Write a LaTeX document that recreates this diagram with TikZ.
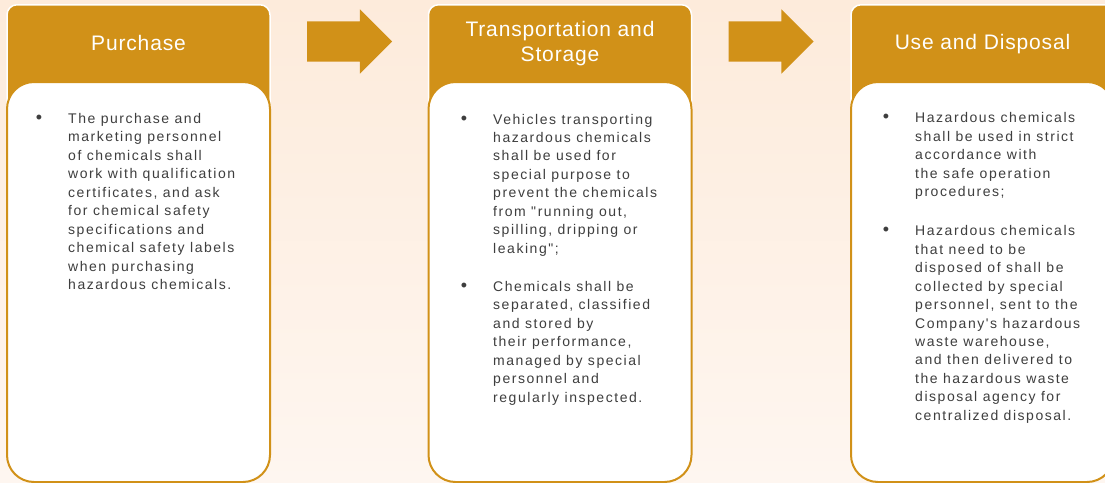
\documentclass[tikz,border=0pt]{standalone}
\usepackage{fontspec}
\setmainfont{Liberation Sans}
\newfontfamily\headfont[LetterSpace=4]{Liberation Sans}
\newfontfamily\itemfont[LetterSpace=11]{Liberation Sans}
\usetikzlibrary{positioning,shapes.arrows}
\definecolor{colorhead}  {RGB}{209,145,24 }
\definecolor{colortext}  {RGB}{62 ,62 ,62 }
\definecolor{colorbgtop} {RGB}{253,235,219}
\definecolor{colorbgbot} {RGB}{254,246,240}
\newcommand{\itembullet}{\llap{{\fontsize{18}{18}\selectfont\textbullet}\hspace{26pt}}}

\begin{document}
\begin{tikzpicture}[
    x=1pt, y=-1pt,
    head/.style={rectangle,fill=colorhead,draw=white,line width=1.5pt,rounded corners=10pt,minimum width=263pt,minimum height=130pt,anchor=north},
    body/.style={rectangle,fill=white,draw=colorhead,line width=2pt,rounded corners=27pt,minimum width=263pt,minimum height=400pt,anchor=north},
    ttl/.style={text=white,font={\headfont\fontsize{21}{25.5}\selectfont},align=center,anchor=base},
    txt/.style={text=colortext,font={\itemfont\fontsize{14}{18.45}\selectfont},align=left,anchor=base west,inner sep=0pt},
    fwd/.style={single arrow,fill=colorhead,inner xsep=0pt,inner ysep=20pt,minimum height=85pt,single arrow head extend=12pt},
]

    \shade[top color=colorbgtop,bottom color=colorbgbot] (0,0) rectangle (1105,482);
    \useasboundingbox (0,0) rectangle (1105,482);

    % three stages
    \node[head] at (138.5,4) (purhead) {};
    \node[body] at (138.5,81) (purbody) {};
    \node[ttl]  at (138.5,50) (purtitle) {Purchase};

    \node[head] at (560,4) (trahead) {};
    \node[body] at (560,81) (trabody) {};
    \node[ttl]  at (560,61.7) (tratitle) {Transportation and\\Storage};

    \node[head] at (982.5,4) (usehead) {};
    \node[body] at (982.5,81) (usebody) {};
    \node[ttl]  at (982.5,49.5) (usetitle) {Use and Disposal};

    % arrows between the stages
    \node[fwd] at (339.5,41.5) (arrowa) {};
    \node[fwd] at (761,41.5) (arrowb) {};

    % bullet texts (placed at the baseline of the last line)
    \node[txt] at (68,289.5) (pur1) {\itembullet The purchase and\\marketing personnel\\of chemicals shall\\work with qualification\\certificates, and ask\\for chemical safety\\specifications and\\chemical safety labels\\when purchasing\\hazardous chemicals.};

    \node[txt] at (493,253.2) (tra1) {\itembullet Vehicles transporting\\hazardous chemicals\\shall be used for\\special purpose to\\prevent the chemicals\\from "running out,\\spilling, dripping or\\leaking";};
    \node[txt] at (493,402) (tra2) {\itembullet Chemicals shall be\\separated, classified\\and stored by\\their performance,\\managed by special\\personnel and\\regularly inspected.};

    \node[txt] at (915,196.5) (use1) {\itembullet Hazardous chemicals\\shall be used in strict\\accordance with\\the safe operation\\procedures;};
    \node[txt] at (915,420.3) (use2) {\itembullet Hazardous chemicals\\that need to be\\disposed of shall be\\collected by special\\personnel, sent to the\\Company's hazardous\\waste warehouse,\\and then delivered to\\the hazardous waste\\disposal agency for\\centralized disposal.};

\end{tikzpicture}
\end{document}
